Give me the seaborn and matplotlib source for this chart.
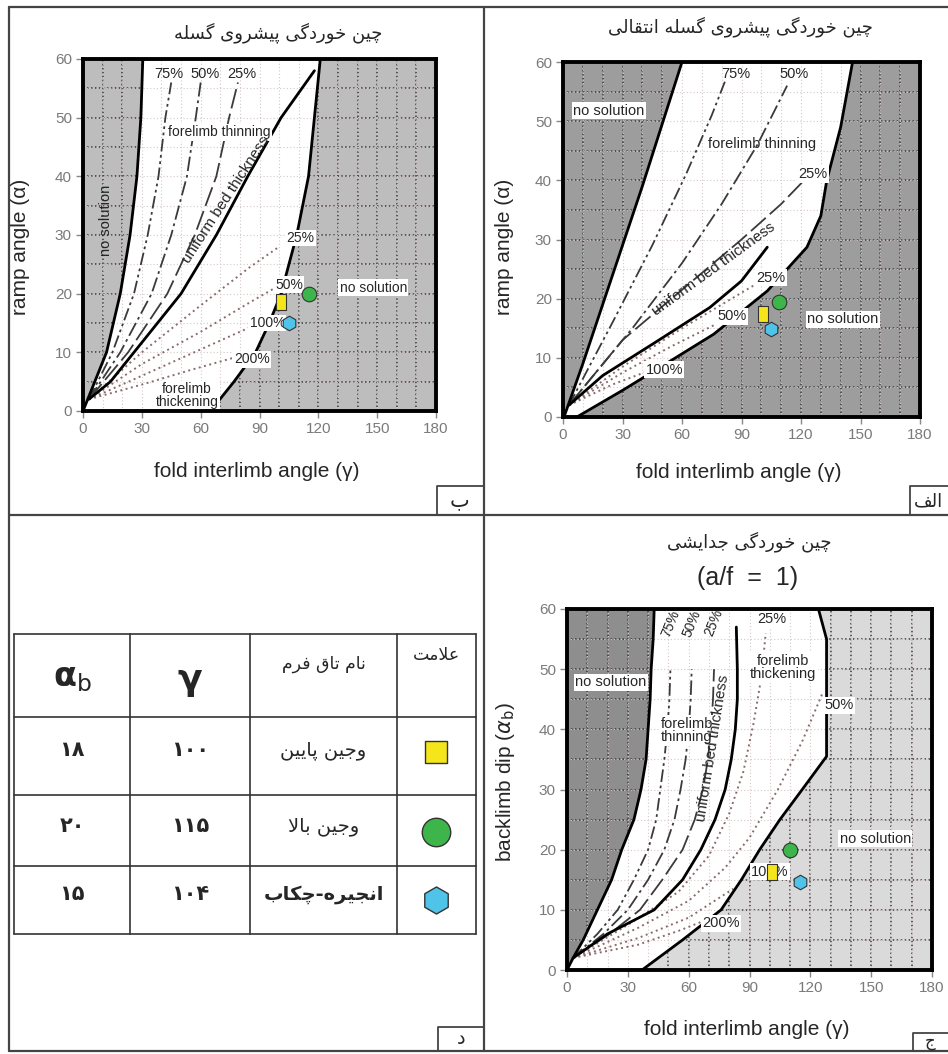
import numpy as np
import matplotlib
matplotlib.use("Agg")
import matplotlib.pyplot as plt
from matplotlib.path import Path
import seaborn as sns

# ---------------------------------------------------------------- data
# Panel "ب" (top-left): fault-propagation folding
p1_left_x = [0, 6, 12, 19, 24, 27.5, 29.5, 30.5]
p1_left_y = [0, 5, 10, 20, 30, 40, 50, 60]
p1_right_x = [65, 77, 88, 95, 101, 105, 109, 115, 118, 121]
p1_right_y = [0, 5, 10, 15, 20, 25, 30, 40, 50, 60]
p1_ubt_x = [3, 14, 26, 50, 68, 84, 101, 118]
p1_ubt_y = [2, 5, 10, 20, 30, 40, 50, 58]
p1_thin_x = {"75%": [3, 15, 26, 33, 38.5, 42, 45],
             "50%": [3, 19, 35, 45, 53, 57.5, 60],
             "25%": [3, 23, 43, 57, 68, 74.5, 79]}
p1_thin_y = {"75%": [2, 10, 20, 30, 40, 50, 56],
             "50%": [2, 10, 20, 30, 40, 50, 56],
             "25%": [2, 10, 20, 30, 40, 50, 56]}
p1_thick_x = {"25%": [3, 30, 60, 85, 100], "50%": [3, 30, 60, 85, 98],
              "100%": [3, 30, 60, 90], "200%": [3, 30, 55, 76]}
p1_thick_y = {"25%": [2, 10, 18, 24.5, 28], "50%": [2, 8, 13.5, 18.5, 21],
              "100%": [2, 6, 10.5, 15], "200%": [2, 4.5, 7, 9]}
p1_mark_x = [101, 115, 105]
p1_mark_y = [18.5, 20, 15]

# Panel "الف" (top-right): transported fault-propagation folding
p2_left_x = [0.5, 10, 20, 30, 40, 50, 60]
p2_left_y = [0, 9, 19, 29, 39, 49.5, 60]
p2_right_x = [7, 30, 49, 76, 103, 123, 130, 133, 140, 146]
p2_right_y = [0, 4.5, 8.4, 14, 21.3, 28.7, 34, 40, 49, 60]
p2_ubt_x = [3, 20, 46, 74, 90, 103]
p2_ubt_y = [2, 7, 12.5, 18.5, 23, 28.7]
p2_thin_x = {"75%": [3, 25, 45, 62, 75, 82],
             "50%": [3, 35, 60, 80, 98, 113],
             "25%": [3, 30, 60, 90, 110, 123]}
p2_thin_y = {"75%": [2, 16, 29, 41, 51, 57],
             "50%": [2, 15, 26, 36, 46, 56],
             "25%": [2, 13, 21.5, 30, 36, 40.5]}
p2_thick_x = {"25%": [3, 30, 60, 85, 100], "50%": [3, 30, 55, 76],
              "100%": [3, 25, 44]}
p2_thick_y = {"25%": [2, 8.5, 15, 20, 23], "50%": [2, 7.5, 12, 15.5],
              "100%": [2, 5.5, 7.9]}
p2_mark_x = [101, 109, 105]
p2_mark_y = [17.4, 19.5, 14.8]

# Panel "ج" (bottom-right): detachment folding (a/f = 1)
p3_left_x = [0, 3, 8, 15, 22, 27, 33, 36.5, 39, 40, 41, 41.5, 42.5, 43]
p3_left_y = [0, 2, 5, 10, 15, 20, 25, 30, 35, 40, 45, 50, 55, 60]
p3_right_x = [37, 57, 76, 86, 95, 105, 116, 128, 128, 124]
p3_right_y = [0, 5, 10, 15, 20, 25, 30, 35.5, 55, 60]
p3_ubt_x = [3, 20, 43, 57, 66, 73, 78, 81, 83, 84, 84, 83.5]
p3_ubt_y = [2, 6, 10, 15, 20, 25, 30, 35, 40, 45, 50, 57]
p3_thin_x = {"75%": [3, 15, 25, 33, 40, 44, 46, 48, 49.5, 50.5, 51],
             "50%": [3, 18, 30, 40, 48, 53, 56, 58.5, 60, 61, 61.5],
             "25%": [3, 21, 36, 47, 57, 63, 67, 69.5, 71, 72, 72.5]}
p3_thin_y = {k: [2, 6, 10, 15, 20, 25, 30, 35, 40, 45, 50]
             for k in ("75%", "50%", "25%")}
p3_thick_x = {"25%": [3, 30, 55, 70, 80, 87, 92, 96, 98],
              "50%": [3, 35, 60, 78, 90, 104, 116, 126],
              "100%": [3, 35, 60, 82],
              "200%": [3, 35, 55, 70]}
p3_thick_y = {"25%": [2, 7.5, 13, 19, 26, 33, 41, 49, 56],
              "50%": [2, 7, 11.5, 17, 22, 30, 38, 46],
              "100%": [2, 5.3, 8.7, 13.5],
              "200%": [2, 4.2, 6.5, 8.5]}
p3_mark_x = [101, 110, 115]
p3_mark_y = [16.3, 20, 14.7]

# Table
table_names = ["وجین پایین", "وجین بالا", "انجیره-چکاب"]
table_gamma = [100, 115, 104]
table_alpha_b = [18, 20, 15]
marker_colors = ["#f5e51b", "#3db54a", "#4fc4e8"]

x_ticks = [0, 30, 60, 90, 120, 150, 180]
y_ticks = [0, 10, 20, 30, 40, 50, 60]

# ---------------------------------------------------------------- Persian shaping
FORMS = {
    "\u0627": ("\uFE8D", "\uFE8E", None, None),
    "\u0628": ("\uFE8F", "\uFE90", "\uFE91", "\uFE92"),
    "\u067E": ("\uFB56", "\uFB57", "\uFB58", "\uFB59"),
    "\u062A": ("\uFE95", "\uFE96", "\uFE97", "\uFE98"),
    "\u062C": ("\uFE9D", "\uFE9E", "\uFE9F", "\uFEA0"),
    "\u0686": ("\uFB7A", "\uFB7B", "\uFB7C", "\uFB7D"),
    "\u062E": ("\uFEA5", "\uFEA6", "\uFEA7", "\uFEA8"),
    "\u062F": ("\uFEA9", "\uFEAA", None, None),
    "\u0631": ("\uFEAD", "\uFEAE", None, None),
    "\u0633": ("\uFEB1", "\uFEB2", "\uFEB3", "\uFEB4"),
    "\u0634": ("\uFEB5", "\uFEB6", "\uFEB7", "\uFEB8"),
    "\u0639": ("\uFEC9", "\uFECA", "\uFECB", "\uFECC"),
    "\u0641": ("\uFED1", "\uFED2", "\uFED3", "\uFED4"),
    "\u0642": ("\uFED5", "\uFED6", "\uFED7", "\uFED8"),
    "\u06A9": ("\uFB8E", "\uFB8F", "\uFB90", "\uFB91"),
    "\u06AF": ("\uFB92", "\uFB93", "\uFB94", "\uFB95"),
    "\u0644": ("\uFEDD", "\uFEDE", "\uFEDF", "\uFEE0"),
    "\u0645": ("\uFEE1", "\uFEE2", "\uFEE3", "\uFEE4"),
    "\u0646": ("\uFEE5", "\uFEE6", "\uFEE7", "\uFEE8"),
    "\u0647": ("\uFEE9", "\uFEEA", "\uFEEB", "\uFEEC"),
    "\u0648": ("\uFEED", "\uFEEE", None, None),
    "\u06CC": ("\uFBFC", "\uFBFD", "\uFBFE", "\uFBFF"),
}


def fa(s):
    toks, i = [], 0
    while i < len(s):
        if s[i] == "\u0644" and i + 1 < len(s) and s[i + 1] == "\u0627":
            toks.append("LA")
            i += 2
        else:
            toks.append(s[i])
            i += 1

    def jn(t):
        return t in FORMS and FORMS[t][2] is not None

    def jp(t):
        return t == "LA" or t in FORMS

    out = []
    for k, t in enumerate(toks):
        prev = toks[k - 1] if k > 0 else None
        nxt = toks[k + 1] if k + 1 < len(toks) else None
        cp = prev is not None and jn(prev) and jp(t)
        cn = nxt is not None and jn(t) and jp(nxt)
        if t == "LA":
            out.append("\uFEFC" if cp else "\uFEFB")
        elif t in FORMS:
            f = FORMS[t]
            out.append(f[3] if (cp and cn) else f[1] if cp else f[2] if cn else f[0])
        elif t == "\u200c":
            out.append(" ")
        else:
            out.append(t)
    return "".join(reversed(out))


PD = str.maketrans("0123456789", "۰۱۲۳۴۵۶۷۸۹")

# ---------------------------------------------------------------- style
sns.set_theme(style="white")
plt.rcParams["font.family"] = ["Liberation Sans", "DejaVu Sans"]
plt.rcParams["mathtext.fontset"] = "dejavusans"
FA = ["DejaVu Sans"]

W, H = 948, 1054
fig = plt.figure(figsize=(W / 100, H / 100), dpi=100)
fig.patch.set_facecolor("white")

bg = fig.add_axes([0, 0, 1, 1], zorder=-5)
bg.set_xlim(0, W)
bg.set_ylim(H, 0)
bg.axis("off")

LC = "#444444"
for (xa, ya, xb, yb) in [(9, 7, 948, 7), (9, 7, 9, 1051), (9, 1051, 948, 1051),
                         (484, 7, 484, 1051), (9, 515, 948, 515)]:
    bg.plot([xa, xb], [ya, yb], color=LC, lw=1.6)

# corner label boxes
boxes = [((437, 486, 484, 515), "ب", 460, 500, 15),
         ((910, 486, 960, 515), "الف", 928, 501, 13),
         ((913, 1033, 960, 1051), "ج", 930, 1041, 12),
         ((438, 1027, 484, 1051), "د", 461, 1039, 14)]
for (xa, ya, xb, yb), lab, tx, ty, fs in boxes:
    bg.plot([xa, xa, xb], [yb, ya, ya], color=LC, lw=1.3)
    bg.text(tx, ty, fa(lab), family=FA, fontsize=fs, ha="center", va="center")

thin_ls = {"75%": (0, (7, 2, 1.5, 2, 1.5, 2)), "50%": (0, (8, 2.2, 1.5, 2.2)),
           "25%": (0, (11, 3))}
thick_ls = (0, (1, 1.8))
mk_rect = Path([(-0.6, -1), (0.6, -1), (0.6, 1), (-0.6, 1), (-0.6, -1)])
mk_styles = [mk_rect, "o", "h"]
mk_sizes = [130, 110, 110]


def px_axes(l, t, r, b):
    return fig.add_axes([l / W, 1 - b / H, (r - l) / W, (b - t) / H])


def setup(ax, face):
    ax.set_facecolor(face)
    ax.set_xlim(0, 180)
    ax.set_ylim(0, 60)
    ax.set_xticks(x_ticks)
    ax.set_yticks(y_ticks)
    ax.tick_params(bottom=True, left=True, direction="out", length=5, width=1,
                   color="#888888", labelcolor="#7a7a7a", labelsize=11, pad=3)
    for sp in ax.spines.values():
        sp.set_linewidth(2.8)
        sp.set_color("black")
        sp.set_zorder(10)
    for gx in range(10, 180, 10):
        ax.axvline(gx, color="#3a3a3a", lw=1.1, ls=(0, (1, 1.6)), zorder=1)
    for gy in range(5, 60, 5):
        ax.axhline(gy, color="#3a3a3a", lw=1.1, ls=(0, (1, 1.6)), zorder=1)


def white_region(ax, lx, ly, rx, ry):
    xs = list(lx) + list(rx)[::-1]
    ys = list(ly) + list(ry)[::-1]
    ax.fill(xs, ys, color="white", zorder=2, lw=0)
    for gx in range(10, 180, 10):
        ax.axvline(gx, color="#d6c8c8", lw=0.8, ls=(0, (1, 2)), zorder=2.2)
    for gy in range(5, 60, 5):
        ax.axhline(gy, color="#d6c8c8", lw=0.8, ls=(0, (1, 2)), zorder=2.2)


def curves(ax, lx, ly, rx, ry, ux, uy, thx, thy, tkx, tky):
    for xs, ys in [(lx, ly), (rx, ry), (ux, uy)]:
        sns.lineplot(x=xs, y=ys, ax=ax, sort=False, estimator=None,
                     color="black", lw=2.0, zorder=4)
    for k in thx:
        sns.lineplot(x=thx[k], y=thy[k], ax=ax, sort=False, estimator=None,
                     color="#3a3a3a", lw=1.3, linestyle=thin_ls[k], zorder=3)
    for k in tkx:
        sns.lineplot(x=tkx[k], y=tky[k], ax=ax, sort=False, estimator=None,
                     color="#8a6b6b", lw=1.4, linestyle=thick_ls, zorder=3)


def marks(ax, mx, my):
    for i in range(len(mx)):
        sns.scatterplot(x=[mx[i]], y=[my[i]], ax=ax, marker=mk_styles[i],
                        s=mk_sizes[i], color=marker_colors[i],
                        edgecolor="#333333", linewidth=0.8, zorder=8)


def label(ax, x, y, s, box=False, size=10, rot=0, **kw):
    bb = dict(facecolor="white", edgecolor="none", pad=1.0) if box else None
    ax.text(x, y, s, fontsize=size, rotation=rot, ha="center", va="center",
            bbox=bb, zorder=6, rotation_mode="anchor", **kw)


# ---------------------------------------------------------------- panel ب
ax1 = px_axes(83, 59, 436, 411)
setup(ax1, "#bdbdbd")
white_region(ax1, p1_left_x, p1_left_y, p1_right_x, p1_right_y)
curves(ax1, p1_left_x, p1_left_y, p1_right_x, p1_right_y, p1_ubt_x, p1_ubt_y,
       p1_thin_x, p1_thin_y, p1_thick_x, p1_thick_y)
label(ax1, 44, 57.5, "75%", size=10.5)
label(ax1, 62, 57.5, "50%", size=10.5)
label(ax1, 81, 57.5, "25%", size=10.5)
label(ax1, 69.5, 47.5, "forelimb thinning", box=True)
label(ax1, 11.5, 32.5, "no solution", rot=90, size=10.5)
label(ax1, 73, 36, "uniform bed thickness", rot=57, size=11)
label(ax1, 111, 29.5, "25%", box=True)
label(ax1, 105, 21.5, "50%", box=True)
label(ax1, 94, 15, "100%", box=True)
label(ax1, 86, 8.8, "200%", box=True)
label(ax1, 148, 21, "no solution", box=True)
label(ax1, 53, 2.6, "forelimb\nthickening", box=True, linespacing=0.95)
marks(ax1, p1_mark_x, p1_mark_y)
ax1.set_xlabel("fold interlimb angle (γ)", fontsize=15)
ax1.set_ylabel("ramp angle (α)", fontsize=15)
ax1.xaxis.set_label_coords(0.493, -0.145)
ax1.yaxis.set_label_coords(-0.15, 0.466)
fig.text(278 / W, 1 - 33 / H, fa("چین خوردگی پیشروی گسله"), family=FA,
         fontsize=13, ha="center", va="center")

# ---------------------------------------------------------------- panel الف
ax2 = px_axes(563, 62, 920, 417)
setup(ax2, "#9d9d9d")
white_region(ax2, p2_left_x, p2_left_y, p2_right_x, p2_right_y)
curves(ax2, p2_left_x, p2_left_y, p2_right_x, p2_right_y, p2_ubt_x, p2_ubt_y,
       p2_thin_x, p2_thin_y, p2_thick_x, p2_thick_y)
label(ax2, 23, 51.8, "no solution", box=True, size=10.5)
label(ax2, 87, 58, "75%", size=10.5)
label(ax2, 116.5, 58, "50%", size=10.5)
label(ax2, 100.5, 46.2, "forelimb thinning", size=10.5)
label(ax2, 126, 41, "25%", box=True, size=10.5)
label(ax2, 76, 25, "uniform bed thickness", rot=36, size=11)
label(ax2, 105, 23.5, "25%", box=True, size=10.5)
label(ax2, 85, 17, "50%", box=True, size=10.5)
label(ax2, 141, 16.5, "no solution", box=True, size=10.5)
label(ax2, 51, 8, "100%", box=True, size=10.5)
marks(ax2, p2_mark_x, p2_mark_y)
ax2.set_xlabel("fold interlimb angle (γ)", fontsize=15)
ax2.set_ylabel("ramp angle (α)", fontsize=15)
ax2.xaxis.set_label_coords(0.493, -0.13)
ax2.yaxis.set_label_coords(-0.137, 0.479)
fig.text(740 / W, 1 - 27 / H, fa("چین\u200cخوردگی پیشروی گسله انتقالی"),
         family=FA, fontsize=13, ha="center", va="center")

# ---------------------------------------------------------------- panel ج
ax3 = px_axes(567, 609, 932, 970)
setup(ax3, "#dadada")
dark_x = list(p3_left_x) + [0]
dark_y = list(p3_left_y) + [60]
ax3.fill(dark_x, dark_y, color="#8e8e8e", zorder=0.5, lw=0)
white_region(ax3, p3_left_x, p3_left_y, p3_right_x, p3_right_y)
curves(ax3, p3_left_x, p3_left_y, p3_right_x, p3_right_y, p3_ubt_x, p3_ubt_y,
       p3_thin_x, p3_thin_y, p3_thick_x, p3_thick_y)
label(ax3, 21.7, 47.8, "no solution", box=True, size=10.5)
label(ax3, 51, 57.5, "75%", rot=68, size=10)
label(ax3, 61.5, 57.5, "50%", rot=68, size=10)
label(ax3, 72.5, 57.8, "25%", rot=68, size=10)
label(ax3, 101, 58.3, "25%", box=True, size=10.5)
label(ax3, 106.5, 50.3, "forelimb\nthickening", box=True, size=10.5,
      linespacing=0.95)
label(ax3, 134, 44, "50%", box=True, size=10.5)
label(ax3, 59, 39.8, "forelimb\nthinning", box=True, size=10.5,
      linespacing=0.95)
label(ax3, 72, 36.8, "uniform bed thickness", rot=81, size=11)
label(ax3, 152, 21.8, "no solution", box=True, size=10.5)
label(ax3, 100, 16.3, "100%", box=True, size=10.5)
label(ax3, 76, 7.8, "200%", box=True, size=10.5)
marks(ax3, p3_mark_x, p3_mark_y)
ax3.set_xlabel("fold interlimb angle (γ)", fontsize=15)
ax3.set_ylabel(r"backlimb dip ($\alpha_{\rm b}$)", fontsize=15)
ax3.xaxis.set_label_coords(0.493, -0.139)
ax3.yaxis.set_label_coords(-0.137, 0.52)
fig.text(749 / W, 1 - 542 / H, fa("چین\u200cخوردگی جدایشی"), family=FA,
         fontsize=13, ha="center", va="center")
fig.text(748 / W, 1 - 578 / H, "(a/f  =  1)", fontsize=18, ha="center",
         va="center")

# ---------------------------------------------------------------- table (د)
col_edges = [14, 130, 250, 397, 476]
row_edges = [634, 717, 795, 866, 934]
for xe in col_edges:
    bg.plot([xe, xe], [row_edges[0], row_edges[-1]], color="#333333", lw=1.2)
for ye in row_edges:
    bg.plot([col_edges[0], col_edges[-1]], [ye, ye], color="#333333", lw=1.2)
cx = [(col_edges[i] + col_edges[i + 1]) / 2 for i in range(4)]
bg.text(cx[0], 678, r"$\mathbf{\alpha}_{\mathrm{b}}$", fontsize=24,
        ha="center", va="center")
bg.text(cx[1], 680, "γ", fontsize=26, fontweight="bold", ha="center",
        va="center", family=["DejaVu Sans"])
bg.text(cx[2], 664, fa("نام تاق فرم"), family=FA, fontsize=12.5,
        ha="center", va="center")
bg.text(cx[3], 655, fa("علامت"), family=FA, fontsize=12.5, ha="center",
        va="center")
row_text_y = [750, 826, 894]
row_mark_y = [752, 832, 900]
tbl_sizes = [260, 420, 380]
for i in range(3):
    bg.text(cx[0], row_text_y[i], str(table_alpha_b[i]).translate(PD),
            family=FA, fontsize=15, fontweight="bold", ha="center", va="center")
    bg.text(cx[1], row_text_y[i], str(table_gamma[i]).translate(PD),
            family=FA, fontsize=15, fontweight="bold", ha="center", va="center")
    bg.text(cx[2], row_text_y[i], fa(table_names[i]), family=FA, fontsize=14,
            ha="center", va="center",
            fontweight="bold" if i == 2 else "normal")
    bg.scatter([cx[3]], [row_mark_y[i]], marker="s" if i == 0 else mk_styles[i],
               s=tbl_sizes[i], color=marker_colors[i], edgecolor="#333333",
               linewidth=1.0, zorder=5)

fig.savefig("out.png", dpi=100)
